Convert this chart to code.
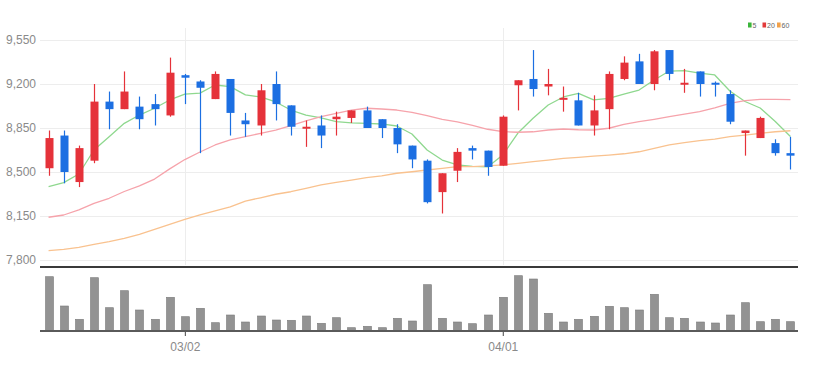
<!DOCTYPE html>
<html>
<head>
<meta charset="utf-8">
<script src="https://cdn.jsdelivr.net/npm/d3@7"></script>
<style>
    body { margin: 0; background: #fff; }
    #chart svg { display: block; }
    .axis text { font-family: "Liberation Sans Narrow", "Arial Narrow", sans-serif; font-size: 12px; fill: #8a8a8a; }
</style>
</head>
<body>
<div id="chart"></div>
<script>
// Data (2022, trading days)
const dates = [
    '02/16', '02/17', '02/18', '02/21', '02/22', '02/23', '02/24', '02/25', '02/28', '03/02',
    '03/03', '03/04', '03/07', '03/08', '03/10', '03/11', '03/14', '03/15', '03/16', '03/17',
    '03/18', '03/21', '03/22', '03/23', '03/24', '03/25', '03/28', '03/29', '03/30', '03/31',
    '04/01', '04/04', '04/05', '04/06', '04/07', '04/08', '04/11', '04/12', '04/13', '04/14',
    '04/15', '04/18', '04/19', '04/20', '04/21', '04/22', '04/25', '04/26', '04/27', '04/28',
];
const openPrices = [
    8530, 8790, 8420, 8590, 9060, 9000, 9020, 9040, 8950, 9270,
    9220, 9080, 9240, 8910, 8870, 9200, 9030, 8850, 8870, 8920,
    8930, 8990, 8920, 8850, 8710, 8590, 8340, 8510, 8690, 8670,
    8550, 9190, 9240, 9180, 9080, 9070, 8870, 9000, 9240, 9380,
    9200, 9470, 9200, 9300, 9210, 9120, 8810, 8770, 8730, 8650,
];
const highPrices = [
    8830, 8830, 8710, 9200, 9140, 9300, 9100, 9120, 9410, 9280,
    9230, 9300, 9240, 8970, 9200, 9300, 9030, 8910, 8950, 8980,
    8990, 9020, 8920, 8880, 8710, 8600, 8490, 8690, 8710, 8670,
    8950, 9230, 9470, 9320, 9180, 9130, 9110, 9300, 9420, 9440,
    9470, 9470, 9320, 9300, 9220, 9150, 8830, 8940, 8760, 8780,
];
const lowPrices = [
    8470, 8410, 8380, 8570, 8840, 9000, 8840, 8870, 8940, 9040,
    8650, 9080, 8790, 8780, 8790, 8910, 8790, 8700, 8690, 8790,
    8890, 8850, 8770, 8650, 8530, 8250, 8170, 8420, 8600, 8470,
    8550, 8990, 9100, 9110, 8980, 8870, 8790, 8840, 9230, 9200,
    9150, 9230, 9130, 9100, 9100, 8880, 8630, 8770, 8630, 8520,
];
const closePrices = [
    8770, 8500, 8690, 9060, 9000, 9140, 8920, 9000, 9290, 9250,
    9170, 9280, 8970, 8880, 9150, 9040, 8860, 8860, 8790, 8940,
    8990, 8850, 8850, 8720, 8600, 8260, 8490, 8660, 8670, 8540,
    8940, 9230, 9160, 9200, 9090, 8870, 8990, 9280, 9370, 9200,
    9460, 9280, 9210, 9200, 9200, 8900, 8830, 8930, 8650, 8630,
];
const volumes = [
    543000, 250000, 117000, 533000, 233000, 403000, 210000, 117000, 337000, 143000,
    227000, 83000, 160000, 90000, 150000, 110000, 107000, 150000, 77000, 133000,
    33000, 47000, 33000, 127000, 100000, 463000, 127000, 90000, 73000, 160000,
    337000, 553000, 520000, 177000, 90000, 117000, 147000, 247000, 233000, 210000,
    367000, 133000, 127000, 90000, 80000, 160000, 283000, 93000, 117000, 93000,
];
const ma5 = [
    8383, 8415, 8484, 8675, 8781, 8887, 8953, 9007, 9073, 9120,
    9128, 9192, 9179, 9113, 9097, 9057, 8993, 8953, 8930, 8900,
    8890, 8886, 8882, 8866, 8802, 8675, 8595, 8556, 8544, 8540,
    8635, 8810, 8927, 9033, 9097, 9126, 9073, 9086, 9120, 9152,
    9232, 9303, 9307, 9287, 9272, 9144, 9061, 9009, 8902, 8782,
];
const ma20 = [
    8140, 8158, 8198, 8251, 8291, 8345, 8390, 8444, 8525, 8599,
    8659, 8715, 8755, 8781, 8808, 8834, 8868, 8906, 8940, 8967,
    8993, 9007, 9001, 8993, 8975, 8948, 8918, 8898, 8870, 8840,
    8821, 8816, 8820, 8834, 8842, 8836, 8834, 8848, 8879, 8900,
    8919, 8940, 8961, 8980, 9011, 9046, 9067, 9078, 9078, 9075,
];
const ma60 = [
    7874, 7885, 7901, 7925, 7946, 7972, 8004, 8044, 8084, 8124,
    8158, 8190, 8222, 8269, 8295, 8323, 8343, 8370, 8397, 8418,
    8436, 8455, 8470, 8490, 8502, 8516, 8529, 8542, 8542, 8548,
    8556, 8569, 8582, 8595, 8609, 8617, 8627, 8635, 8645, 8661,
    8688, 8715, 8733, 8749, 8762, 8781, 8794, 8808, 8820, 8828,
];
const priceTicks = [7800, 8150, 8500, 8850, 9200, 9550];
const dateTicks = ['03/02', '04/01'];
const maNames = ['5', '20', '60'];

// Dimensions
let dimensions = {
    width: 816,
    height: 372,
    left: 41,
    right: 798,
    priceTop: 40,
    priceBottom: 260,
    separator: 267,
    volBottom: 331,
    volTop: 275,
};

const colors = {
    up: '#e5323a',
    down: '#1c6fe2',
    grid: '#ededed',
    ma: ['#8fd88f', '#f6a3ab', '#f9c28f'],
    legend: ['#3bb53b', '#e23a3a', '#f2a14a'],
};

const candles = dates.map((date, i) => ({
    date,
    open: openPrices[i],
    high: highPrices[i],
    low: lowPrices[i],
    close: closePrices[i],
    volume: volumes[i],
}));

// Draw Image
const svg = d3
    .select('#chart')
    .append('svg')
    .attr('width', dimensions.width)
    .attr('height', dimensions.height)
    ;

// Scales
const xScale = d3
    .scalePoint()
    .domain(dates)
    .range([dimensions.left, dimensions.right])
    .padding(0.5)
    ;

const yScale = d3
    .scaleLinear()
    .domain([7800, 9550])
    .range([dimensions.priceBottom, dimensions.priceTop])
    ;

const volScale = d3
    .scaleLinear()
    .domain([0, 560000])
    .range([dimensions.volBottom, dimensions.volTop])
    ;

const bodyWidth = 8;

// Grid
svg.append('g')
    .selectAll('line')
    .data(priceTicks)
    .join('line')
    .attr('x1', dimensions.left - 1)
    .attr('x2', dimensions.right)
    .attr('y1', d => Math.round(yScale(d)) + 0.5)
    .attr('y2', d => Math.round(yScale(d)) + 0.5)
    .attr('stroke', colors.grid)
    ;

svg.append('g')
    .selectAll('line')
    .data(dateTicks)
    .join('line')
    .attr('x1', d => Math.round(xScale(d)) + 0.5)
    .attr('x2', d => Math.round(xScale(d)) + 0.5)
    .attr('y1', dimensions.priceTop - 12)
    .attr('y2', dimensions.separator - 2)
    .attr('stroke', colors.grid)
    ;

// Y axis labels
const yAxis = d3
    .axisLeft(yScale)
    .tickValues(priceTicks)
    .tickFormat(d3.format(','))
    .tickSize(0)
    .tickPadding(4)
    ;

svg.append('g')
    .attr('transform', `translate(${dimensions.left - 1}, 0)`)
    .classed('axis', true)
    .call(yAxis)
    .call(g => g.select('.domain').remove())
    ;

// Moving averages
const maSeries = [ma5, ma20, ma60];
const line = d3
    .line()
    .x((d, i) => xScale(dates[i]))
    .y(d => yScale(d))
    ;

svg.append('g')
    .selectAll('path')
    .data(maSeries)
    .join('path')
    .attr('d', d => line(d))
    .attr('fill', 'none')
    .attr('stroke', (d, i) => colors.ma[i])
    .attr('stroke-width', 1.3)
    .attr('stroke-linejoin', 'round')
    ;

// Candles
const candleGroup = svg
    .append('g')
    .selectAll('g')
    .data(candles)
    .join('g')
    .attr('fill', d => d.close >= d.open ? colors.up : colors.down)
    .attr('stroke', d => d.close >= d.open ? colors.up : colors.down)
    ;

candleGroup
    .append('line')
    .attr('x1', d => Math.round(xScale(d.date)) + 0.5)
    .attr('x2', d => Math.round(xScale(d.date)) + 0.5)
    .attr('y1', d => yScale(d.high))
    .attr('y2', d => yScale(d.low))
    .attr('stroke-width', 1.2)
    ;

candleGroup
    .append('rect')
    .attr('x', d => Math.round(xScale(d.date)) + 0.5 - bodyWidth / 2)
    .attr('width', bodyWidth)
    .attr('y', d => yScale(Math.max(d.open, d.close)))
    .attr('height', d => Math.max(2, Math.abs(yScale(d.open) - yScale(d.close))))
    .attr('stroke', 'none')
    ;

// Separator between panels
svg.append('line')
    .attr('x1', dimensions.left - 1)
    .attr('x2', dimensions.right)
    .attr('y1', dimensions.separator)
    .attr('y2', dimensions.separator)
    .attr('stroke', '#3a3a3a')
    .attr('stroke-width', 2.2)
    ;

// Volume bars
svg.append('g')
    .selectAll('rect')
    .data(candles)
    .join('rect')
    .attr('x', d => Math.round(xScale(d.date)) + 0.5 - bodyWidth / 2)
    .attr('width', bodyWidth)
    .attr('y', d => volScale(d.volume))
    .attr('height', d => dimensions.volBottom - volScale(d.volume))
    .attr('fill', '#939393')
    .attr('stroke', '#7a7a7a')
    .attr('stroke-width', 0.6)
    ;

// X axis
const xAxis = d3
    .axisBottom(xScale)
    .tickValues(dateTicks)
    .tickSize(5)
    .tickPadding(6)
    ;

const xAxisGroup = svg
    .append('g')
    .attr('transform', `translate(0, ${dimensions.volBottom})`)
    .classed('axis', true)
    .call(xAxis)
    ;

xAxisGroup.select('.domain').remove();
xAxisGroup.selectAll('.tick line').attr('stroke', '#444');

svg.append('line')
    .attr('x1', dimensions.left - 1)
    .attr('x2', dimensions.right)
    .attr('y1', dimensions.volBottom)
    .attr('y2', dimensions.volBottom)
    .attr('stroke', '#5a5a5a')
    .attr('stroke-width', 2)
    ;

// Legend
const legend = svg
    .append('g')
    .attr('transform', 'translate(748, 0)')
    ;

const legendX = [0, 14.5, 29];
const legendItem = legend
    .selectAll('g')
    .data(maNames)
    .join('g')
    .attr('transform', (d, i) => `translate(${legendX[i]}, 0)`)
    ;

legendItem
    .append('rect')
    .attr('x', 0)
    .attr('y', 22.5)
    .attr('width', 3.6)
    .attr('height', 5)
    .attr('fill', (d, i) => colors.legend[i])
    ;

legendItem
    .append('text')
    .attr('x', 4.5)
    .attr('y', 27.6)
    .attr('font-family', '"Liberation Sans Narrow", sans-serif')
    .attr('font-size', 7)
    .attr('fill', '#666')
    .text(d => d)
    ;
</script>
</body>
</html>
